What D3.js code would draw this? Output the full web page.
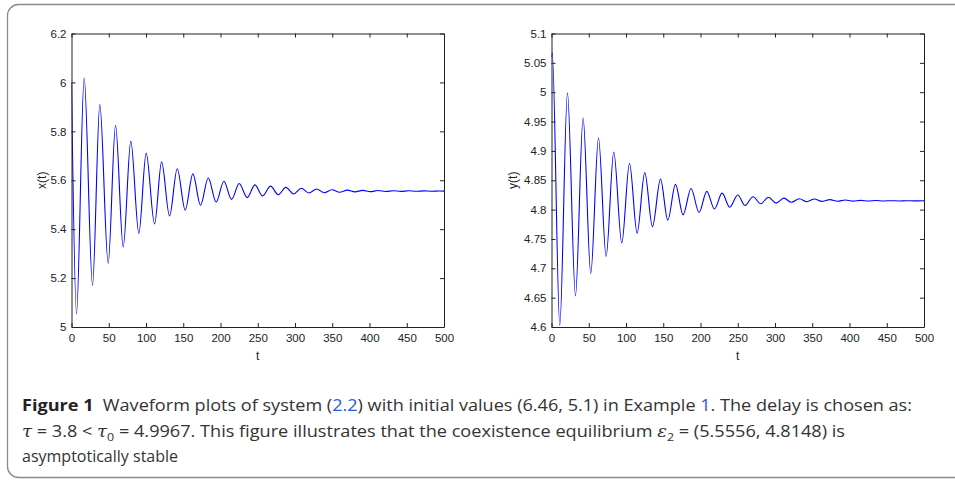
<!DOCTYPE html>
<style>
    body { margin: 0; background: #fff; }
    .tick text { font-size: 11.5px; font-family: "Liberation Sans", Arial, sans-serif; fill: #222; }
    .domain, .tick line { stroke: #222; }
    .wave { fill: none; stroke: #0000ff; stroke-width: 1.1px; }
    .axlab { font: 12px "Liberation Sans", Arial, sans-serif; fill: #222; }
    .cap { font: 16px "Open Sans", "Noto Sans", sans-serif; fill: #333; }
</style>
<body>
<script src="https://d3js.org/d3.v7.min.js"></script>
<script>
// extrema (t, value), joined by a monotone curve
var tX = [0, 6.7, 17, 28.2, 38, 49.2, 59.1, 69.4, 79.6, 90.4,
          100.2, 111.5, 120.9, 131.6, 141.9, 152.6, 162.9, 173.2, 183.5, 194.2,
          204.5, 214.9, 225.1, 235.8, 246.2, 256.5, 267.2, 277.5, 287.8, 298.1,
          308.4, 318.7, 329, 339.3, 349.6, 359.9, 370.2, 380.5, 390.8, 401.1,
          411.4, 421.7, 432, 442.3, 452.6, 462.9, 473.2, 483.5, 493.8, 500];
var xVals = [6.0, 5.053, 6.019, 5.17, 5.909, 5.26, 5.825, 5.327, 5.760, 5.383,
             5.711, 5.421, 5.675, 5.454, 5.647, 5.478, 5.626, 5.498, 5.609, 5.511,
             5.596, 5.522, 5.587, 5.529, 5.581, 5.536, 5.576, 5.541, 5.571, 5.544,
             5.567, 5.548, 5.564, 5.549, 5.561, 5.551, 5.5595, 5.5525, 5.5585, 5.5533,
             5.5578, 5.5540, 5.5572, 5.5545, 5.5568, 5.5548, 5.5565, 5.5550, 5.5563, 5.5556];

var tY = [0, 1, 11.1, 21.4, 32.2, 42.4, 52.7, 63.1, 73.3, 83.6,
          94.3, 104.7, 114.9, 125.2, 135.5, 146.3, 156.1, 166.4, 176.6, 187.3,
          198.1, 208.4, 218.7, 229, 239.3, 250, 259.8, 270.5, 280.9, 291.2,
          301.4, 312, 322, 332.6, 342.8, 353, 363, 373.7, 384, 394.3,
          404.6, 415, 425.2, 435.5, 445.8, 456, 466.4, 476.7, 487, 497.3, 500];
var yVals = [5.06, 5.067, 4.603, 4.999, 4.653, 4.956, 4.691, 4.922, 4.720, 4.898,
             4.743, 4.879, 4.760, 4.863, 4.771, 4.852, 4.782, 4.843, 4.791, 4.836,
             4.795, 4.831, 4.801, 4.828, 4.804, 4.825, 4.807, 4.822, 4.810, 4.821,
             4.811, 4.8195, 4.8125, 4.8185, 4.8135, 4.818, 4.814, 4.817, 4.8143, 4.8163,
             4.8145, 4.8158, 4.8146, 4.8155, 4.8147, 4.8152, 4.8147, 4.8151, 4.8148, 4.815, 4.8149];

var tTicks = [0, 50, 100, 150, 200, 250, 300, 350, 400, 450, 500];
var xTicks = [5, 5.2, 5.4, 5.6, 5.8, 6, 6.2];
var yTicks = [4.6, 4.65, 4.7, 4.75, 4.8, 4.85, 4.9, 4.95, 5, 5.05, 5.1];

var svg = d3.select("body").append("svg")
    .attr("width", 955)
    .attr("height", 482);

// figure frame
svg.append("rect")
    .attr("x", 7.5).attr("y", 4.5)
    .attr("width", 980).attr("height", 473)
    .attr("rx", 11)
    .attr("fill", "none")
    .attr("stroke", "#8a8a8a")
    .attr("stroke-width", 1.3);

function panel(left, right, ts, vs, domain, ticks, label, labOff, id) {
    var top = 33.5, bottom = 327;
    var x = d3.scaleLinear().domain([0, 500]).range([left, right]);
    var y = d3.scaleLinear().domain(domain).range([bottom, top]);
    var g = svg.append("g");

    g.append("clipPath").attr("id", id)
      .append("rect")
        .attr("x", left).attr("y", top)
        .attr("width", right - left).attr("height", bottom - top);

    var pts = ts.map(function(t, i) { return [t, vs[i]]; });
    var line = d3.line()
        .x(function(d) { return x(d[0]); })
        .y(function(d) { return y(d[1]); })
        .curve(d3.curveMonotoneX);
    g.append("path")
        .attr("class", "wave")
        .attr("clip-path", "url(#" + id + ")")
        .attr("d", line(pts));

    var fmt = d3.format("~g");
    g.append("g").attr("transform", "translate(0," + bottom + ")")
        .call(d3.axisBottom(x).tickValues(tTicks).tickFormat(fmt)
              .tickSizeInner(-4).tickSizeOuter(0).tickPadding(7));
    g.append("g").attr("transform", "translate(0," + top + ")")
        .call(d3.axisTop(x).tickValues(tTicks).tickFormat("")
              .tickSizeInner(-4).tickSizeOuter(0));
    g.append("g").attr("transform", "translate(" + left + ",0)")
        .call(d3.axisLeft(y).tickValues(ticks).tickFormat(fmt)
              .tickSizeInner(-4).tickSizeOuter(0).tickPadding(5));
    g.append("g").attr("transform", "translate(" + right + ",0)")
        .call(d3.axisRight(y).tickValues(ticks).tickFormat("")
              .tickSizeInner(-4).tickSizeOuter(0));

    g.append("text").attr("class", "axlab")
        .attr("x", (left + right) / 2).attr("y", 360)
        .attr("text-anchor", "middle").text("t");
    g.append("text").attr("class", "axlab")
        .attr("transform", "translate(" + (left - labOff) + "," + ((top + bottom) / 2) + ") rotate(-90)")
        .attr("text-anchor", "middle").text(label);
}

panel(71.5, 444, tX, xVals, [5, 6.2], xTicks, "x(t)", 26, "clipx");
panel(551.5, 924, tY, yVals, [4.6, 5.1], yTicks, "y(t)", 35, "clipy");

// caption
var blue = "#2a5bd7";
var l1 = svg.append("text").attr("class", "cap").attr("x", 22).attr("y", 411)
    .attr("textLength", 890).attr("lengthAdjust", "spacingAndGlyphs");
l1.append("tspan").attr("font-weight", "bold").attr("fill", "#222").text("Figure 1");
l1.append("tspan").text("\u00a0\u00a0Waveform plots of system (");
l1.append("tspan").attr("fill", blue).text("2.2");
l1.append("tspan").text(") with initial values (6.46, 5.1) in Example ");
l1.append("tspan").attr("fill", blue).text("1");
l1.append("tspan").text(". The delay is chosen as:");

var l2 = svg.append("text").attr("class", "cap").attr("x", 22).attr("y", 437)
    .attr("textLength", 823).attr("lengthAdjust", "spacingAndGlyphs");
l2.append("tspan").attr("font-style", "italic").attr("font-family", "DejaVu Serif").text("\u03c4");
l2.append("tspan").text(" = 3.8 < ");
l2.append("tspan").attr("font-style", "italic").attr("font-family", "DejaVu Serif").text("\u03c4");
l2.append("tspan").attr("font-size", "11px").attr("dy", 4).text("0");
l2.append("tspan").attr("dy", -4).text(" = 4.9967. This figure illustrates that the coexistence equilibrium ");
l2.append("tspan").attr("font-style", "italic").attr("font-family", "DejaVu Serif").text("\u03b5");
l2.append("tspan").attr("font-size", "11px").attr("dy", 4).text("2");
l2.append("tspan").attr("dy", -4).text(" = (5.5556, 4.8148) is");

svg.append("text").attr("class", "cap").attr("x", 22).attr("y", 462)
    .text("asymptotically stable");
</script>
</body>
